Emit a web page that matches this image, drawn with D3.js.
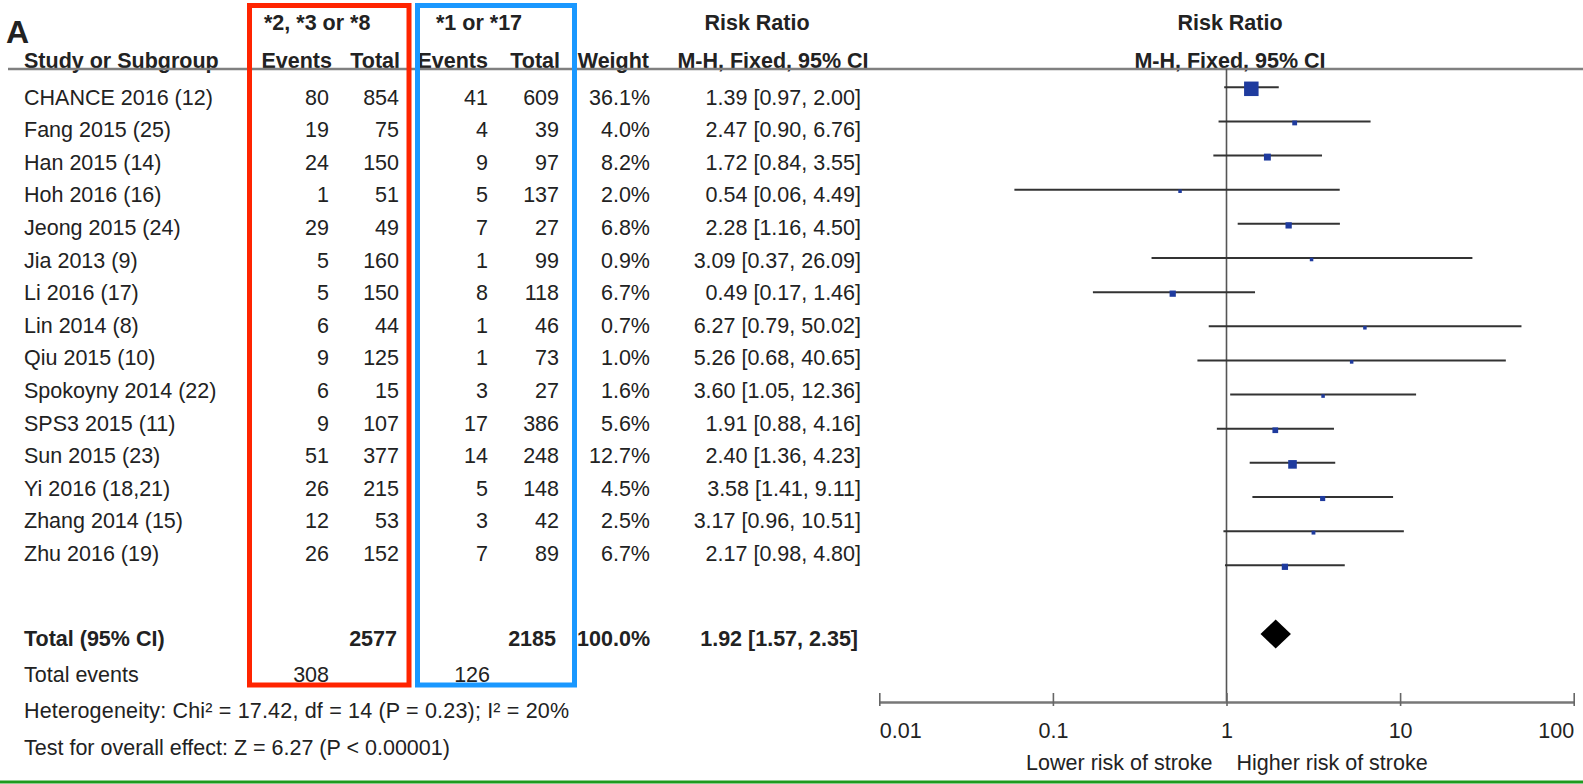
<!DOCTYPE html>
<html><head><meta charset="utf-8">
<script src="https://cdn.jsdelivr.net/npm/d3@7"></script>
<style>
html,body{margin:0;padding:0;background:#fff;}
svg{display:block;}
text{font-family:"Liberation Sans",Arial,sans-serif;fill:#222;}
</style></head><body>
<svg id="c" width="1583" height="784"></svg>
<script>
// ---- data ----
const studies = ["CHANCE 2016 (12)", "Fang 2015 (25)", "Han 2015 (14)", "Hoh 2016 (16)", "Jeong 2015 (24)", "Jia 2013 (9)", "Li 2016 (17)", "Lin 2014 (8)", "Qiu 2015 (10)", "Spokoyny 2014 (22)", "SPS3 2015 (11)", "Sun 2015 (23)", "Yi 2016 (18,21)", "Zhang 2014 (15)", "Zhu 2016 (19)"];
const lofEvents = [80, 19, 24, 1, 29, 5, 5, 6, 9, 6, 9, 51, 26, 12, 26];
const lofTotal = [854, 75, 150, 51, 49, 160, 150, 44, 125, 15, 107, 377, 215, 53, 152];
const wtEvents = [41, 4, 9, 5, 7, 1, 8, 1, 1, 3, 17, 14, 5, 3, 7];
const wtTotal = [609, 39, 97, 137, 27, 99, 118, 46, 73, 27, 386, 248, 148, 42, 89];
const weights = [36.1, 4.0, 8.2, 2.0, 6.8, 0.9, 6.7, 0.7, 1.0, 1.6, 5.6, 12.7, 4.5, 2.5, 6.7];
const rr = [1.39, 2.47, 1.72, 0.54, 2.28, 3.09, 0.49, 6.27, 5.26, 3.60, 1.91, 2.40, 3.58, 3.17, 2.17];
const ciLow = [0.97, 0.90, 0.84, 0.06, 1.16, 0.37, 0.17, 0.79, 0.68, 1.05, 0.88, 1.36, 1.41, 0.96, 0.98];
const ciHigh = [2.00, 6.76, 3.55, 4.49, 4.50, 26.09, 1.46, 50.02, 40.65, 12.36, 4.16, 4.23, 9.11, 10.51, 4.80];
const pooled = [1.92, 1.57, 2.35];
const totalN = [2577, 2185];
const totalEvents = [308, 126];
const totalWeight = 100.0;
const axisTicks = [0.01, 0.1, 1, 10, 100];
const groupLabels = ["*2, *3 or *8", "*1 or *17"];
const heterogeneity = "Heterogeneity: Chi\u00B2 = 17.42, df = 14 (P = 0.23); I\u00B2 = 20%";
const overallTest = "Test for overall effect: Z = 6.27 (P < 0.00001)";
const favourLeft = "Lower risk of stroke";
const favourRight = "Higher risk of stroke";

// ---- layout ----
const svg = d3.select("#c");
const FS = 21.5;
const idx = d3.range(studies.length);
const yText = d3.scalePoint().domain(idx).range([104.5, 561]);
const yPlot = d3.scalePoint().domain(idx).range([87.3, 565.3]);
const x = d3.scaleLog().domain([0.01, 100]).range([879.3, 1573.7]);
const sq = d3.scaleSqrt().domain([0, 36.1]).range([0, 14.5]);
const fmt2 = d3.format(".2f");
const ciText = (m, l, h) => `${fmt2(m)} [${fmt2(l)}, ${fmt2(h)}]`;

const col = { label: 24, ev1: 329, tot1: 399, ev2: 488, tot2: 559, wt: 650, ci: 861 };

function txt(g, s, xx, yy, anchor, bold, size) {
  return g.append("text").attr("x", xx).attr("y", yy)
    .attr("text-anchor", anchor || "start")
    .attr("font-size", size || FS)
    .attr("font-weight", bold ? "bold" : "normal")
    .text(s);
}

const T = svg.append("g");

// panel letter
txt(T, "A", 6, 43, "start", true, 32);

// headers
const yH1 = 30, yH2 = 67.5;
txt(T, groupLabels[0], 264, yH1, "start", true);
txt(T, groupLabels[1], 436, yH1, "start", true);
txt(T, "Risk Ratio", 757, yH1, "middle", true);
txt(T, "Risk Ratio", 1230, yH1, "middle", true);
txt(T, "Study or Subgroup", col.label, yH2, "start", true);
txt(T, "Events", col.ev1 + 3, yH2, "end", true);
txt(T, "Total", col.tot1 + 1, yH2, "end", true);
txt(T, "Events", col.ev2, yH2, "end", true);
txt(T, "Total", col.tot2 + 1, yH2, "end", true);
txt(T, "Weight", col.wt - 1, yH2, "end", true);
txt(T, "M-H, Fixed, 95% CI", 773, yH2, "middle", true);
txt(T, "M-H, Fixed, 95% CI", 1230, yH2, "middle", true);

// header rule
svg.append("line").attr("x1", 8).attr("x2", 1583).attr("y1", 69).attr("y2", 69)
  .attr("stroke", "#808080").attr("stroke-width", 2.5);

// study rows
const rows = T.selectAll("g.row").data(idx).join("g").attr("class", "row");
rows.append("text").attr("x", col.label).attr("y", i => yText(i)).attr("font-size", FS).text(i => studies[i]);
rows.append("text").attr("x", col.ev1).attr("y", i => yText(i)).attr("font-size", FS).attr("text-anchor", "end").text(i => lofEvents[i]);
rows.append("text").attr("x", col.tot1).attr("y", i => yText(i)).attr("font-size", FS).attr("text-anchor", "end").text(i => lofTotal[i]);
rows.append("text").attr("x", col.ev2).attr("y", i => yText(i)).attr("font-size", FS).attr("text-anchor", "end").text(i => wtEvents[i]);
rows.append("text").attr("x", col.tot2).attr("y", i => yText(i)).attr("font-size", FS).attr("text-anchor", "end").text(i => wtTotal[i]);
rows.append("text").attr("x", col.wt).attr("y", i => yText(i)).attr("font-size", FS).attr("text-anchor", "end").text(i => d3.format(".1f")(weights[i]) + "%");
rows.append("text").attr("x", col.ci).attr("y", i => yText(i)).attr("font-size", FS).attr("text-anchor", "end").text(i => ciText(rr[i], ciLow[i], ciHigh[i]));

// total row
const yTot = 646;
txt(T, "Total (95% CI)", col.label, yTot, "start", true);
txt(T, totalN[0], col.tot1 - 2, yTot, "end", true);
txt(T, totalN[1], col.tot2 - 3, yTot, "end", true);
txt(T, d3.format(".1f")(totalWeight) + "%", col.wt, yTot, "end", true);
txt(T, ciText(pooled[0], pooled[1], pooled[2]), col.ci - 3, yTot, "end", true);

// total events
const yEv = 682;
txt(T, "Total events", col.label, yEv, "start", false);
txt(T, totalEvents[0], col.ev1, yEv, "end", false);
txt(T, totalEvents[1], col.ev2 + 2, yEv, "end", false);

txt(T, heterogeneity, col.label, 718, "start", false).attr("letter-spacing", 0.18);
txt(T, overallTest, col.label, 754.5, "start", false);

// ---- forest plot ----
const P = svg.append("g");
// line of no effect
P.append("line").attr("x1", x(1)).attr("x2", x(1)).attr("y1", 69).attr("y2", 702)
  .attr("stroke", "#555").attr("stroke-width", 1.6);

const fr = P.selectAll("g.fr").data(idx).join("g").attr("class", "fr");
fr.append("line")
  .attr("x1", i => x(ciLow[i])).attr("x2", i => x(ciHigh[i]))
  .attr("y1", i => yPlot(i)).attr("y2", i => yPlot(i))
  .attr("stroke", "#333").attr("stroke-width", 2);
fr.append("rect")
  .attr("x", i => x(rr[i]) - Math.max(3.5, sq(weights[i])) / 2)
  .attr("y", i => yPlot(i) + 1.5 - Math.max(3.5, sq(weights[i])) / 2)
  .attr("width", i => Math.max(3.5, sq(weights[i])))
  .attr("height", i => Math.max(3.5, sq(weights[i])))
  .attr("fill", "#1f3b9e");

// pooled diamond
const yD = 634, hD = 14.5;
P.append("path")
  .attr("d", `M${x(pooled[1])},${yD} L${x(pooled[0])},${yD - hD} L${x(pooled[2])},${yD} L${x(pooled[0])},${yD + hD} Z`)
  .attr("fill", "#000");

// axis
const ax = P.append("g").attr("transform", "translate(0,702)")
  .call(d3.axisBottom(x).tickValues(axisTicks).tickSizeOuter(0).tickSize(0)
    .tickFormat(d => d3.format("~g")(d)));
ax.select(".domain").attr("stroke", "#777").attr("stroke-width", 2.5);
ax.selectAll(".tick line").attr("y1", -9).attr("y2", 4).attr("stroke", "#666").attr("stroke-width", 1.6);
ax.selectAll(".tick text").attr("y", 36).attr("dy", 0).attr("font-size", FS)
  .attr("font-family", '"Liberation Sans",Arial,sans-serif').attr("fill", "#222")
  .attr("text-anchor", (d, i) => i === 0 ? "start" : (i === axisTicks.length - 1 ? "end" : "middle"));
ax.attr("font-size", null).attr("font-family", null);

txt(P, favourLeft, x(1) - 14, 769.5, "end", false);
txt(P, favourRight, x(1) + 10, 769.5, "start", false);

// ---- highlight boxes ----
svg.append("rect").attr("x", 249.5).attr("y", 5.5).attr("width", 159.5).attr("height", 679.5)
  .attr("fill", "none").attr("stroke", "#ff2400").attr("stroke-width", 5);
svg.append("rect").attr("x", 417.5).attr("y", 5.5).attr("width", 157).attr("height", 679.5)
  .attr("fill", "none").attr("stroke", "#1a98ff").attr("stroke-width", 5);

// bottom green rule
svg.append("line").attr("x1", 0).attr("x2", 1583).attr("y1", 782).attr("y2", 782)
  .attr("stroke", "#1f9a1f").attr("stroke-width", 3);
</script>
</body></html>
